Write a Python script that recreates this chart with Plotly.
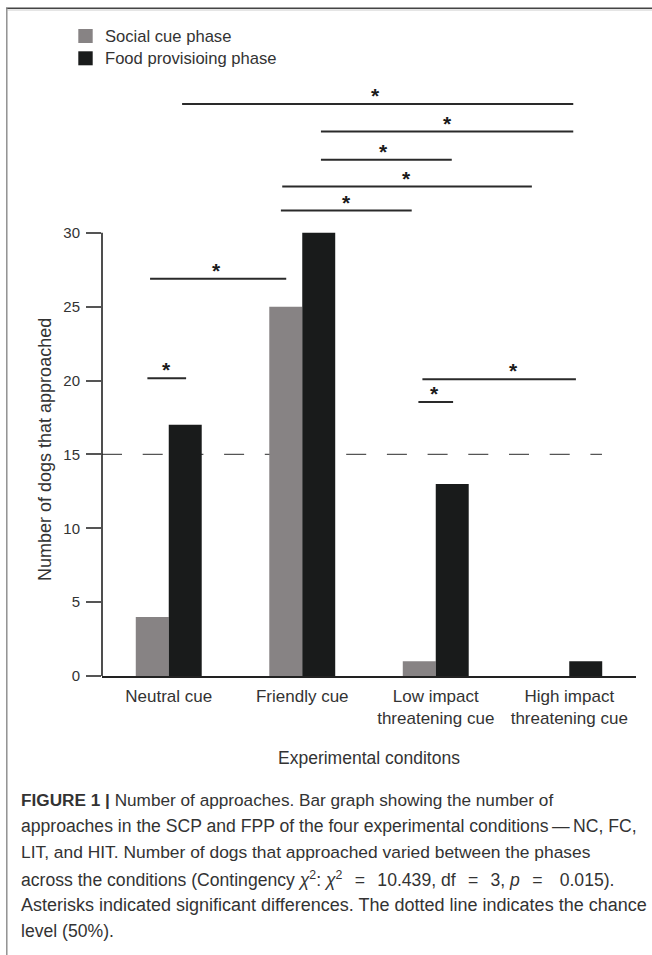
import plotly.graph_objects as go

# ---------------- data ----------------
categories = ["Neutral cue", "Friendly cue", "Low impact<br>threatening cue", "High impact<br>threatening cue"]
social_cue = [4, 25, 1, 0]
food_prov = [17, 30, 13, 1]
series_names = ["Social cue phase", "Food provisioing phase"]
series_colors = ["#878384", "#191b1b"]
y_ticks = [0, 5, 10, 15, 20, 25, 30]
chance_level = 15

# significance brackets: (x start, x end, y, star x) in category units
sig_x0 = [0.10, 1.14, 1.14, 0.85, 0.84, -0.14, -0.16, 1.90, 1.87]
sig_x1 = [3.03, 3.03, 2.12, 2.72, 1.82, 0.88, 0.13, 3.05, 2.13]
sig_y = [38.71, 36.85, 34.94, 33.13, 31.5, 26.88, 20.16, 20.09, 18.55]
sig_star_x = [1.55, 2.085, 1.61, 1.78, 1.335, 0.36, -0.02, 2.58, 1.99]

SP = "\u2002\u2009"
caption_lines = [
    "<b>FIGURE 1 |</b> Number of approaches. Bar graph showing the number of",
    "approaches in the SCP and FPP of the four experimental conditions\u2009\u2014\u2009NC, FC,",
    "LIT, and HIT. Number of dogs that approached varied between the phases",
    "across the conditions (Contingency <i>\u03c7</i><sup>2</sup>: <i>\u03c7</i><sup>2</sup>" + SP + "=" + SP
    + "10.439, df" + SP + "=" + SP + "3, <i>p</i>" + SP + "=" + SP + " 0.015).",
    "Asterisks indicated significant differences. The dotted line indicates the chance",
    "level (50%).",
]

# ---------------- layout geometry ----------------
W, H = 652, 955
L, R, T, B = 102, 16, 85, 279
PW, PH = W - L - R, H - T - B
FONT = "Liberation Sans, Arial, sans-serif"
TXT = "#333333"


def px_x(p):
    return (p - L) / PW


def px_y(p):
    return (H - B - p) / PH


fig = go.Figure()
for name, vals, col in zip(series_names, [social_cue, food_prov], series_colors):
    fig.add_trace(go.Bar(x=categories, y=vals, name=name, marker=dict(color=col, line=dict(width=0)),
                         showlegend=False))

shapes = []
annotations = []

# chance line (dashed)
shapes.append(dict(type="line", xref="x", yref="y", x0=-0.5, x1=3.245, y0=chance_level, y1=chance_level,
                   line=dict(color="#555555", width=1.3, dash="20px,20.7px"), layer="below"))

# y axis line up to 30
shapes.append(dict(type="line", xref="paper", yref="y", x0=0, x1=0, y0=0, y1=max(y_ticks),
                   line=dict(color="#222222", width=1.6)))

# significance brackets
for x0, x1, y, sx in zip(sig_x0, sig_x1, sig_y, sig_star_x):
    shapes.append(dict(type="line", xref="x", yref="y", x0=x0, x1=x1, y0=y, y1=y,
                       line=dict(color="#2a2a2a", width=2)))
    annotations.append(dict(x=sx, y=y, xref="x", yref="y", text="<b>*</b>", showarrow=False,
                            font=dict(family=FONT, size=21, color="#1a1a1a"),
                            xanchor="center", yanchor="bottom", yshift=-5))

# frame lines (figure border)
shapes.append(dict(type="line", xref="paper", yref="paper", x0=px_x(6), x1=px_x(652), y0=px_y(8.3), y1=px_y(8.3),
                   line=dict(color="#444444", width=1.5)))
shapes.append(dict(type="line", xref="paper", yref="paper", x0=px_x(7.5), x1=px_x(652), y0=px_y(10), y1=px_y(10),
                   line=dict(color="#cccccc", width=1)))
shapes.append(dict(type="line", xref="paper", yref="paper", x0=px_x(6.8), x1=px_x(6.8), y0=px_y(8), y1=px_y(955),
                   line=dict(color="#8a8a8a", width=1.4)))

# legend (custom)
leg_y = [36, 58.3]
for name, col, cy in zip(series_names, series_colors, leg_y):
    shapes.append(dict(type="rect", xref="paper", yref="paper", x0=px_x(78.3), x1=px_x(92.7),
                       y0=px_y(cy - 7), y1=px_y(cy + 7), fillcolor=col, line=dict(width=0)))
    annotations.append(dict(x=px_x(102.5), y=px_y(cy), xref="paper", yref="paper", text=name, showarrow=False,
                            xanchor="left", yanchor="middle", font=dict(family=FONT, size=16.6, color=TXT)))

# y title
annotations.append(dict(x=px_x(45), y=px_y(450), xref="paper", yref="paper", text="Number of dogs that approached",
                        showarrow=False, textangle=-90, xanchor="center", yanchor="middle",
                        font=dict(family=FONT, size=18, color=TXT)))
# x title
annotations.append(dict(x=px_x(369), y=px_y(758), xref="paper", yref="paper", text="Experimental conditons",
                        showarrow=False, xanchor="center", yanchor="middle",
                        font=dict(family=FONT, size=17.5, color=TXT)))

# caption
cap_y = [800, 826.2, 852.4, 878.6, 904.8, 931]
cap_sizes = [17.2, 17.6, 17.4, 17.6, 18.0, 17.6]
for line, cy, fs in zip(caption_lines, cap_y, cap_sizes):
    annotations.append(dict(x=px_x(19), y=px_y(cy), xref="paper", yref="paper", text=line, showarrow=False,
                            xanchor="left", yanchor="middle", align="left",
                            font=dict(family=FONT, size=fs, color=TXT)))

fig.update_layout(
    width=W, height=H,
    margin=dict(l=L, r=R, t=T, b=B, pad=0),
    paper_bgcolor="white", plot_bgcolor="white",
    barmode="group", bargap=0.506, bargroupgap=0,
    showlegend=False,
    shapes=shapes, annotations=annotations,
    font=dict(family=FONT, color=TXT),
    xaxis=dict(range=[-0.5, 3.5], showline=True, linecolor="#222222", linewidth=1.6, ticks="",
               showgrid=False, zeroline=False, tickfont=dict(family=FONT, size=17, color=TXT),
               ticklabelstandoff=4),
    yaxis=dict(range=[0, 40], tickvals=y_ticks, ticks="outside", ticklen=15, tickwidth=1.5,
               tickcolor="#555555", showline=False, showgrid=False, zeroline=False,
               tickfont=dict(family=FONT, size=15, color=TXT), ticklabelstandoff=3),
)

fig.write_html("out.html")
